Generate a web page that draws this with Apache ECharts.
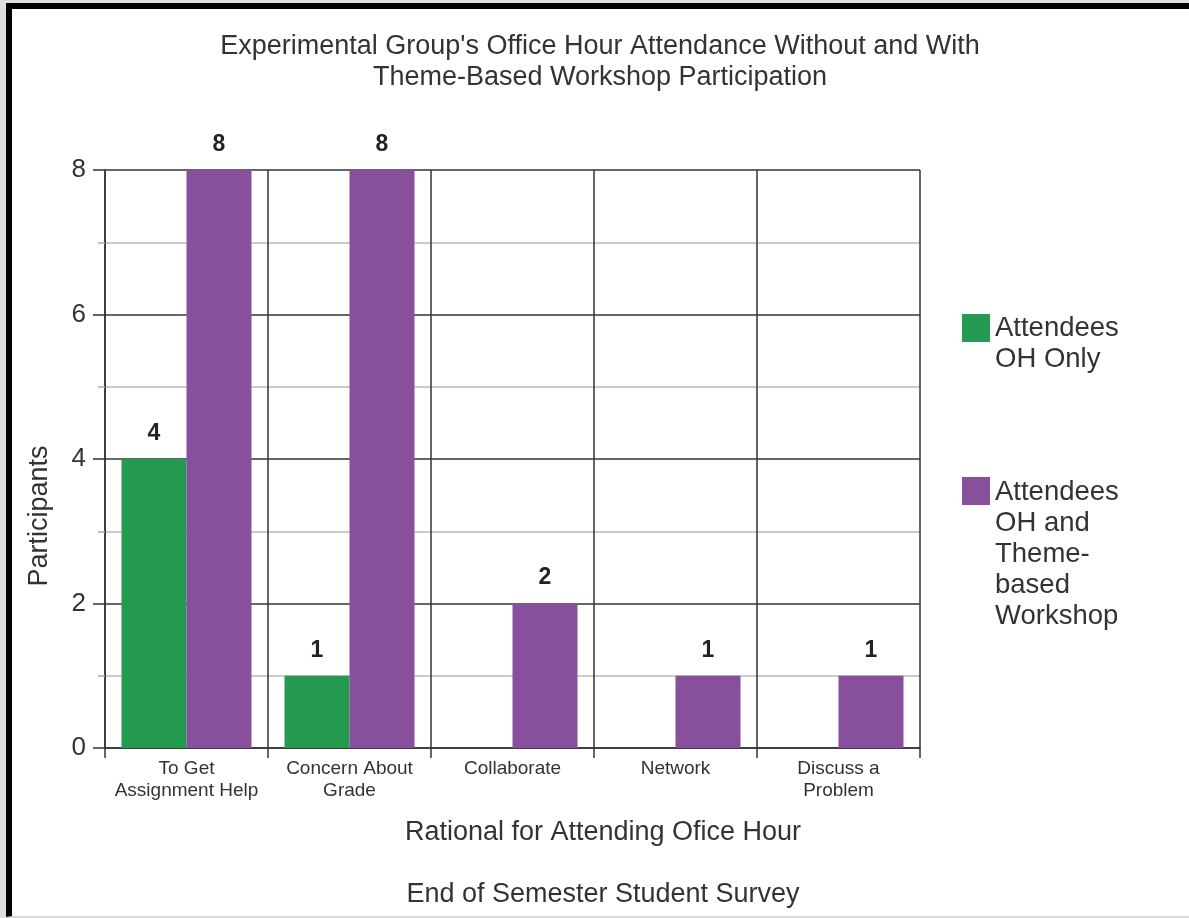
<!DOCTYPE html>
<html>
<head>
<meta charset="utf-8">
<script src="https://cdn.jsdelivr.net/npm/echarts@6/dist/echarts.min.js"></script>
<style>
  html, body { margin: 0; padding: 0; background: #dedede; }
  #frame { position: absolute; left: 6px; top: 3px; width: 1177px; height: 907px;
           border-left: 6px solid #000; border-top: 6px solid #000; border-bottom: 1px solid #d4d4d4;
           background: #fff; }
  #chart { position: absolute; left: 0; top: 0; width: 1189px; height: 918px; }
</style>
</head>
<body>
<div id="frame"></div>
<div id="chart"></div>
<script>
const titleLines = "Experimental Group's Office Hour Attendance Without and With\nTheme-Based Workshop Participation";
const categories = ["To Get\nAssignment Help", "Concern About\nGrade", "Collaborate", "Network", "Discuss a\nProblem"];
const seriesNames = ["Attendees\nOH Only", "Attendees\nOH and\nTheme-\nbased\nWorkshop"];
const ohOnly = [4, 1, 0, 0, 0];
const ohAndWorkshop = [8, 8, 2, 1, 1];
const yTicks = [0, 2, 4, 6, 8];
const xAxisTitle = "Rational for Attending Ofice Hour";
const subCaption = "End of Semester Student Survey";
const yAxisTitle = "Participants";

const FONT = "'Liberation Sans', Arial, Helvetica, sans-serif";
const TXT = '#333333';
const GREEN = '#239a50';
const PURPLE = '#884f9c';

const chart = echarts.init(document.getElementById('chart'), null, { renderer: 'canvas' });

const labelCfg = {
  show: true, position: 'top', distance: 14,
  fontFamily: FONT, fontSize: 23, fontWeight: 'bold', color: '#222',
  formatter: p => (p.value > 0 ? p.value : '')
};

const legendText = { fontFamily: FONT, fontSize: 27.5, color: TXT, lineHeight: 31 };

chart.setOption({
  backgroundColor: 'transparent',
  animation: false,
  textStyle: { fontFamily: FONT },
  title: [
    { text: titleLines, left: 600, top: 31, textAlign: 'center', padding: 0,
      textStyle: { fontFamily: FONT, fontSize: 27, fontWeight: 'normal', color: TXT, lineHeight: 31 } },
    { text: xAxisTitle, left: 603, top: 819, textAlign: 'center', padding: 0,
      textStyle: { fontFamily: FONT, fontSize: 27, fontWeight: 'normal', color: TXT } },
    { text: subCaption, left: 603, top: 881, textAlign: 'center', padding: 0,
      textStyle: { fontFamily: FONT, fontSize: 27, fontWeight: 'normal', color: TXT } }
  ],
  graphic: [
    { type: 'text', x: 40, y: 516, rotation: Math.PI / 2,
      style: { text: yAxisTitle, font: "27px " + FONT, fill: TXT, align: 'center', verticalAlign: 'middle' } }
  ],
  legend: [
    { data: [seriesNames[0]],
      orient: 'vertical', left: 962, top: 313, padding: 0,
      itemWidth: 28, itemHeight: 62, itemGap: 0,
      icon: 'path://M0,1H28V29H0Z M0,0 M0,62',
      textStyle: legendText },
    { data: [seriesNames[1]],
      orient: 'vertical', left: 962, top: 477, padding: 0,
      itemWidth: 28, itemHeight: 155, itemGap: 0,
      icon: 'path://M0,0H28V28H0Z M0,0 M0,155',
      textStyle: legendText }
  ],
  grid: { left: 105, right: 269, top: 170, bottom: 170, containLabel: false },
  xAxis: {
    type: 'category', data: categories, boundaryGap: true,
    axisLine: { show: true, lineStyle: { color: '#333', width: 1.5 } },
    axisTick: { show: true, length: 10, alignWithLabel: false, lineStyle: { color: '#333', width: 1.5 } },
    axisLabel: { margin: 10, fontFamily: FONT, fontSize: 19, color: TXT, lineHeight: 22, interval: 0 },
    splitLine: { show: true, lineStyle: { color: '#333', width: 1.5 } }
  },
  yAxis: {
    type: 'value', min: 0, max: 8, interval: 2,
    axisLine: { show: true, lineStyle: { color: '#333', width: 1.5 } },
    axisTick: { show: true, length: 12, lineStyle: { color: '#333', width: 1.5 } },
    minorTick: { show: true, splitNumber: 2, length: 7, lineStyle: { color: '#aaa', width: 1.5 } },
    minorSplitLine: { show: true, lineStyle: { color: '#bbb', width: 1.5 } },
    splitLine: { show: true, lineStyle: { color: '#333', width: 1.5 } },
    axisLabel: { margin: 19, fontFamily: FONT, fontSize: 26, color: TXT,
      formatter: v => (yTicks.indexOf(v) >= 0 ? String(v) : '') }
  },
  series: [
    { name: seriesNames[0], type: 'bar', data: ohOnly, barWidth: 65, barGap: '0%',
      itemStyle: { color: GREEN }, label: labelCfg },
    { name: seriesNames[1], type: 'bar', data: ohAndWorkshop, barWidth: 65, barGap: '0%',
      itemStyle: { color: PURPLE }, label: labelCfg }
  ]
});
</script>
</body>
</html>
